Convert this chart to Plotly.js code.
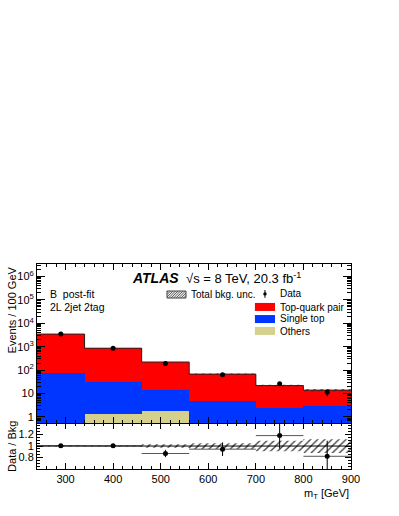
<!DOCTYPE html>
<html>
<head>
<meta charset="utf-8">
<script src="https://cdn.plot.ly/plotly-3.0.1.min.js"></script>
<style>
  body { margin: 0; background: #fff; }
  #chart { width: 399px; height: 516px; }
</style>
</head>
<body>
<div id="chart"></div>
<script>
// bins in m_T [GeV]
const binLo = [240, 340, 460, 560, 700, 800];
const binHi = [340, 460, 560, 700, 800, 900];

// events / 100 GeV (post-fit)
const topPair = [3380, 830, 207, 63, 19.5, 11];
const singleTop = [73, 31, 13, 4.7, 2.5, 3.0];
const others = [0, 1.3, 1.8, 0, 0, 0];
const dataVals = [3470, 865, 193, 64, 26, 11.5];
const dataErr = [60, 30, 14, 8, 5, 3.8];
// relative total background uncertainty
const bkgUnc = [0.01, 0.01, 0.03, 0.05, 0.09, 0.12];

const xTicks = [300, 400, 500, 600, 700, 800, 900];
const yTickVals = [1, 10, 100, 1e3, 1e4, 1e5, 1e6];
const yTickText = ["1", "10", "10<sup>2</sup>", "10<sup>3</sup>", "10<sup>4</sup>", "10<sup>5</sup>", "10<sup>6</sup>"];
const rTickVals = [0.8, 1, 1.2];
const rTickText = ["0.8", "1", "1.2"];

const centers = binLo.map((lo, i) => (lo + binHi[i]) / 2);
const widths = binLo.map((lo, i) => binHi[i] - lo);
const total = topPair.map((v, i) => v + singleTop[i] + others[i]);
const ratio = dataVals.map((v, i) => v / total[i]);
const ratioErr = dataErr.map((e, i) => e / total[i]);

const FONT = "Liberation Sans, Arial, sans-serif";
const RED = "#ff0000", BLUE = "#0036ff", KHAKI = "#d5d08c";

// rectangles (separated by gaps) for hatched bands
const bandPoly = (lowF, highF) => {
    const xs = [], ys = [];
    binLo.forEach((lo, i) => {
        const a = lowF(i), b = highF(i);
        xs.push(lo, binHi[i], binHi[i], lo, lo, null);
        ys.push(a, a, b, b, a, null);
    });
    return { xs, ys };
};
const mainBand = bandPoly(i => total[i] * (1 - bkgUnc[i]), i => total[i] * (1 + bkgUnc[i]));
const ratioBand = bandPoly(i => 1 - bkgUnc[i], i => 1 + bkgUnc[i]);

// step outline of total background
const stepX = [], stepY = [];
binLo.forEach((lo, i) => { stepX.push(lo, binHi[i]); stepY.push(total[i], total[i]); });

const hatch = { shape: "/", fgcolor: "#333", bgcolor: "rgba(0,0,0,0)", size: 5, solidity: 0.25 };

const bar = (y, color, name) => ({
    type: "bar", name, x: centers, y, width: widths,
    marker: { color, line: { width: 0 } },
    xaxis: "x2", yaxis: "y", showlegend: false, hoverinfo: "skip",
});

const data = [
    bar(others, KHAKI, "Others"),
    bar(singleTop, BLUE, "Single top"),
    bar(topPair, RED, "Top-quark pair"),
    {
        type: "scatter", mode: "lines", x: mainBand.xs, y: mainBand.ys,
        fill: "toself", fillcolor: "rgba(0,0,0,0)", fillpattern: hatch,
        line: { width: 0 }, xaxis: "x2", yaxis: "y", showlegend: false,
    },
    {
        type: "scatter", mode: "lines", x: stepX, y: stepY,
        line: { color: "#222", width: 1 }, xaxis: "x2", yaxis: "y", showlegend: false,
    },
    {
        type: "scatter", mode: "markers", x: centers, y: dataVals,
        marker: { color: "black", size: 5 },
        error_y: { type: "data", array: dataErr, color: "black", thickness: 1, width: 0 },
        xaxis: "x2", yaxis: "y", showlegend: false,
    },
    // ratio panel
    {
        type: "scatter", mode: "lines", x: ratioBand.xs, y: ratioBand.ys,
        fill: "toself", fillcolor: "rgba(0,0,0,0)", fillpattern: hatch,
        line: { width: 0 }, xaxis: "x", yaxis: "y2", showlegend: false,
    },
    {
        type: "scatter", mode: "markers", x: centers, y: ratio,
        marker: { color: "black", size: 5 },
        error_y: { type: "data", array: ratioErr, color: "black", thickness: 1, width: 0 },
        error_x: { type: "data", array: widths.map(w => w / 2), color: "#555", thickness: 1, width: 0 },
        xaxis: "x", yaxis: "y2", showlegend: false,
    },
];

// minor ticks for the log axis
const minorVals = [];
for (let d = -1; d <= 6; d++) for (let k = 2; k <= 9; k++) minorVals.push(k * Math.pow(10, d));

const axisCommon = {
    showline: true, linecolor: "black", linewidth: 1, mirror: "allticks",
    ticks: "inside", tickcolor: "black", ticklen: 6, showgrid: false, zeroline: false,
    tickfont: { family: FONT, size: 11, color: "black" },
};

// legend swatch for the hatched band: box plus clipped diagonal strokes (pixel units -> paper)
const PX = 1 / 314, PY = 1 / 205;
const hx0 = 0.414, hy0 = 0.834, hW = 19, hH = 7;
const hatchShapes = [
    { type: "rect", xref: "paper", yref: "paper", x0: hx0, x1: hx0 + hW * PX, y0: hy0, y1: hy0 + hH * PY,
      fillcolor: "#e6e6e6", line: { color: "#444", width: 1 } },
];
for (let s = -hH + 1; s < hW; s += 2.5) {
    const xa = Math.max(0, s), xb = Math.min(hW, s + hH);
    if (xb <= xa) continue;
    hatchShapes.push({
        type: "line", xref: "paper", yref: "paper",
        x0: hx0 + xa * PX, y0: hy0 + (xa - s) * PY, x1: hx0 + xb * PX, y1: hy0 + (xb - s) * PY,
        line: { color: "#444", width: 0.8 },
    });
}

const label = (x, y, text, size) => ({
    xref: "paper", yref: "paper", x, y, xanchor: "left", yanchor: "middle", showarrow: false,
    text, font: { family: FONT, size: size || 10.5 },
});

const layout = {
    width: 399, height: 516,
    margin: { l: 37, r: 48, t: 264, b: 47 },
    paper_bgcolor: "white", plot_bgcolor: "white",
    barmode: "stack", bargap: 0,
    font: { family: FONT, size: 11, color: "black" },
    xaxis: {
        ...axisCommon, anchor: "y2", range: [240, 900], tickvals: xTicks,
        minor: { ticks: "inside", ticklen: 3, dtick: 20, tickcolor: "black" },
    },
    xaxis2: {
        ...axisCommon, anchor: "y", matches: "x", range: [240, 900], tickvals: xTicks,
        showticklabels: false,
        minor: { ticks: "inside", ticklen: 3, dtick: 20, tickcolor: "black" },
    },
    yaxis: {
        ...axisCommon, type: "log", domain: [0.224, 1], range: [-0.26, 6.53],
        tickvals: yTickVals, ticktext: yTickText, ticklen: 8,
        minor: { ticks: "inside", ticklen: 4, tickvals: minorVals, tickcolor: "black" },
    },
    yaxis2: {
        ...axisCommon, domain: [0, 0.224], range: [0.6, 1.4],
        tickvals: rTickVals, ticktext: rTickText,
        minor: { ticks: "inside", ticklen: 3, dtick: 0.05, tickcolor: "black" },
    },
    shapes: [
        { type: "line", xref: "paper", yref: "y2", x0: 0, x1: 1, y0: 1, y1: 1, line: { color: "black", width: 1 } },
        ...hatchShapes,
        { type: "rect", xref: "paper", yref: "paper", x0: 0.694, x1: 0.758, y0: 0.771, y1: 0.810, fillcolor: RED, line: { width: 0 } },
        { type: "rect", xref: "paper", yref: "paper", x0: 0.694, x1: 0.758, y0: 0.712, y1: 0.751, fillcolor: BLUE, line: { width: 0 } },
        { type: "rect", xref: "paper", yref: "paper", x0: 0.694, x1: 0.758, y0: 0.654, y1: 0.693, fillcolor: KHAKI, line: { width: 0 } },
        { type: "line", xref: "paper", yref: "paper", x0: 0.726, x1: 0.726, y0: 0.835, y1: 0.873, line: { color: "black", width: 1 } },
        { type: "circle", xref: "paper", yref: "paper", x0: 0.7205, x1: 0.7315, y0: 0.846, y1: 0.862, fillcolor: "black", line: { width: 0 } },
    ],
    annotations: [
        label(0.296, 0.932, "<b><i>ATLAS</i></b>", 14),
        label(0.468, 0.932, "\u221As = 8 TeV, 20.3 fb<sup>-1</sup>", 13),
        label(0.035, 0.854, "B  post-fit"),
        label(0.035, 0.790, "2L 2jet 2tag"),
        label(0.484, 0.851, "Total bkg. unc.", 10),
        label(0.768, 0.854, "Data", 10),
        label(0.766, 0.790, "Top-quark pair", 10),
        label(0.766, 0.732, "Single top", 10),
        label(0.766, 0.673, "Others", 10),
        // axis titles
        { xref: "paper", yref: "paper", x: 1, y: -0.08, xanchor: "right", yanchor: "top", showarrow: false,
          text: "m<sub>T</sub> [GeV]", font: { family: FONT, size: 11 } },
        { xref: "paper", yref: "paper", x: -0.08, y: 1, xanchor: "center", yanchor: "top", showarrow: false, textangle: -90,
          text: "Events / 100 GeV", font: { family: FONT, size: 11 } },
        { xref: "paper", yref: "paper", x: -0.08, y: 0.112, xanchor: "center", yanchor: "middle", showarrow: false, textangle: -90,
          text: "Data / Bkg", font: { family: FONT, size: 11 } },
    ],
};

Plotly.newPlot("chart", data, layout, { displayModeBar: false, staticPlot: true });
</script>
</body>
</html>
